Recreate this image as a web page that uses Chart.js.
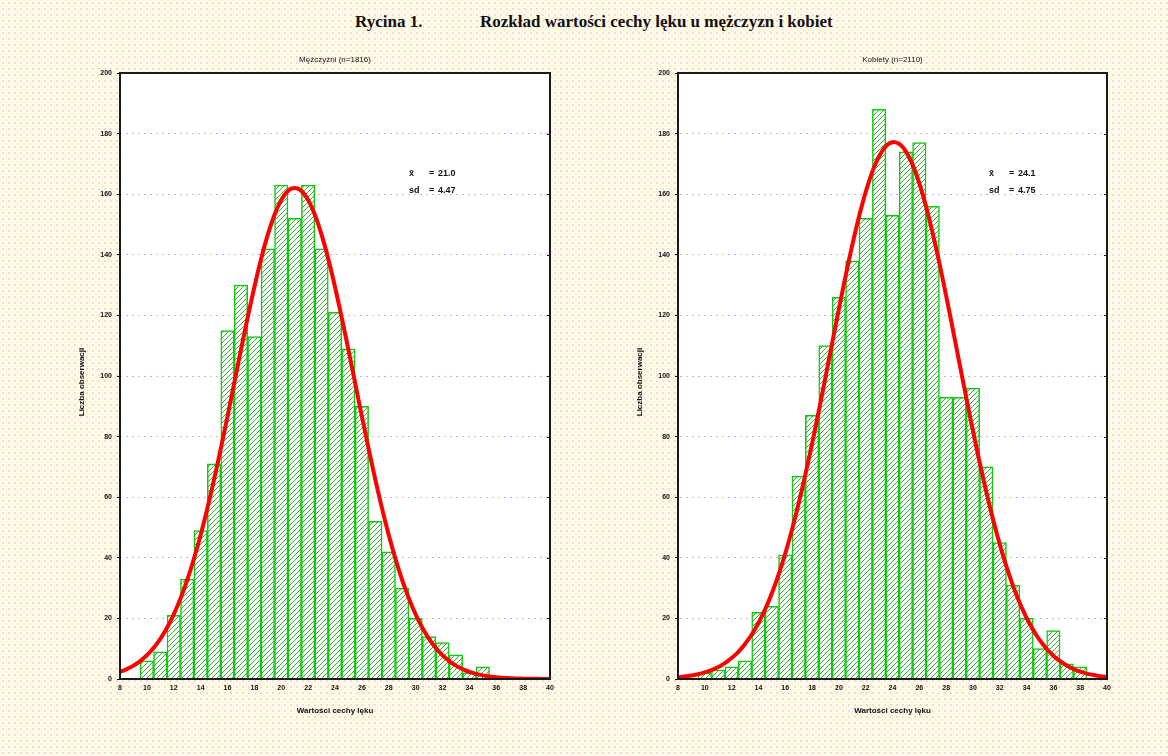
<!DOCTYPE html>
<html lang="pl">
<head>
<meta charset="utf-8">
<title>Rycina 1</title>
<script src="https://cdn.jsdelivr.net/npm/chart.js@4/dist/chart.umd.min.js"></script>
<style>
  html, body { margin: 0; padding: 0; }
  body {
    width: 1168px; height: 756px; overflow: hidden; position: relative;
    background-color: #fefbe9;
    background-image:
      radial-gradient(circle, rgba(240,165,228,0.45) 0.8px, transparent 1.2px),
      radial-gradient(circle, rgba(252,244,180,0.6) 0.8px, transparent 1.2px);
    background-size: 6px 6px, 6px 6px;
    background-position: 0 0, 3px 3px;
  }
  .title {
    position: absolute; top: 11px;
    font: bold 17px "Liberation Serif", "DejaVu Serif", serif;
    color: #111; white-space: nowrap; line-height: 22px;
  }
  canvas { position: absolute; top: 0; }
</style>
</head>
<body>
<span class="title" style="left:355px">Rycina 1.</span>
<span class="title" style="left:480px">Rozkład wartości cechy lęku u mężczyzn i kobiet</span>
<canvas id="men" width="584" height="756" style="left:0"></canvas>
<canvas id="women" width="584" height="756" style="left:584px"></canvas>
<script>
// Histogram bins (bin centres, width 1) and counts per group
const binsMen = [10, 11, 12, 13, 14, 15, 16, 17, 18, 19, 20, 21, 22, 23, 24, 25, 26, 27, 28, 29, 30, 31, 32, 33, 34, 35];
const countsMen = [6, 9, 21, 33, 49, 71, 115, 130, 113, 142, 163, 152, 163, 142, 121, 109, 90, 52, 42, 30, 20, 14, 12, 8, 2, 4];

const binsWomen = [10, 11, 12, 13, 14, 15, 16, 17, 18, 19, 20, 21, 22, 23, 24, 25, 26, 27, 28, 29, 30, 31, 32, 33, 34, 35, 36, 37, 38];
const countsWomen = [2, 3, 4, 6, 22, 24, 41, 67, 87, 110, 126, 138, 152, 188, 153, 174, 177, 156, 93, 93, 96, 70, 45, 31, 20, 10, 16, 5, 4];

// Sample statistics shown on each panel
const nMen = 1816, meanMen = 21.0, sdMen = 4.47;
const nWomen = 2110, meanWomen = 24.1, sdWomen = 4.75;

// Axis ranges and tick steps
const xRange = [8, 40], xStep = 2;
const yRange = [0, 200], yStep = 20;

// Fitted normal curve (expected counts per unit bin) from n, mean and sd
function normalCurve(n, mean, sd) {
  const pts = [];
  for (let x = xRange[0]; x <= xRange[1] + 1e-9; x += 0.25) {
    const z = (x - mean) / sd;
    pts.push({ x: x, y: n / (sd * Math.sqrt(2 * Math.PI)) * Math.exp(-0.5 * z * z) });
  }
  return pts;
}

// Diagonal hatch used inside the bars
function hatchPattern() {
  const c = document.createElement('canvas');
  c.width = 5; c.height = 5;
  const g = c.getContext('2d');
  g.fillStyle = '#ffffff';
  g.fillRect(0, 0, 5, 5);
  g.strokeStyle = '#2fb52f';
  g.lineWidth = 1;
  g.beginPath();
  g.moveTo(-1, 6); g.lineTo(6, -1);
  g.moveTo(-1, 1); g.lineTo(1, -1);
  g.moveTo(4, 6); g.lineTo(6, 4);
  g.stroke();
  return g.createPattern(c, 'repeat');
}

// Dotted, multi-coloured horizontal grid line
function gridPattern() {
  const c = document.createElement('canvas');
  c.width = 18; c.height = 4;
  const g = c.getContext('2d');
  g.fillStyle = '#86d4dc'; g.fillRect(0, 0, 2, 4);
  g.fillStyle = '#e79ae0'; g.fillRect(6, 0, 2, 4);
  g.fillStyle = '#cfcf96'; g.fillRect(12, 0, 2, 4);
  return g.createPattern(c, 'repeat');
}

const tickFont = { family: '"Liberation Sans", Arial, sans-serif', size: 7, weight: 'bold' };

// White plot background, frame and panel texts
const panelDecor = {
  id: 'panelDecor',
  beforeDraw(chart) {
    const a = chart.chartArea, ctx = chart.ctx;
    ctx.save();
    ctx.fillStyle = '#ffffff';
    ctx.fillRect(a.left, a.top, a.right - a.left, a.bottom - a.top);
    ctx.restore();
  },
  afterDraw(chart, args, o) {
    const a = chart.chartArea, ctx = chart.ctx;
    const y = chart.scales.y;
    ctx.save();
    // frame
    ctx.strokeStyle = '#1a1a1a';
    ctx.lineWidth = 2;
    ctx.strokeRect(a.left, a.top, a.right - a.left, a.bottom - a.top);
    // short inner tick marks on the right edge
    ctx.lineWidth = 1;
    y.ticks.forEach(t => {
      const py = Math.round(y.getPixelForValue(t.value)) + 0.5;
      ctx.beginPath();
      ctx.moveTo(a.right - 3, py); ctx.lineTo(a.right, py);
      ctx.stroke();
    });
    const cx = (a.left + a.right) / 2;
    ctx.fillStyle = '#111';
    ctx.textBaseline = 'middle';
    // panel title
    ctx.font = '8px "Liberation Sans", Arial, sans-serif';
    ctx.textAlign = 'center';
    ctx.fillText(o.subtitle, cx, 60);
    // x-axis title
    ctx.font = 'bold 8px "Liberation Sans", Arial, sans-serif';
    ctx.fillText('Wartości cechy lęku', cx, 711);
    // y-axis title
    ctx.save();
    ctx.translate(o.yTitleX, (a.top + a.bottom) / 2 + 6);
    ctx.rotate(-Math.PI / 2);
    ctx.fillText('Liczba obserwacji', 0, 0);
    ctx.restore();
    // mean / sd box
    ctx.font = 'bold 9px "Liberation Sans", Arial, sans-serif';
    ctx.textAlign = 'left';
    o.stats.forEach((row, i) => {
      const ry = 174 + i * 17;
      ctx.fillText(row[0], o.statsX, ry);
      ctx.fillText('=', o.statsX + 20, ry);
      ctx.fillText(row[1], o.statsX + 29, ry);
    });
    ctx.restore();
  }
};

function makePanel(id, bins, counts, n, mean, sd, pad, deco) {
  const hatch = hatchPattern();
  const grid = gridPattern();
  return new Chart(document.getElementById(id), {
    type: 'bar',
    data: {
      datasets: [
        {
          type: 'line',
          data: normalCurve(n, mean, sd),
          borderColor: '#ff0000',
          borderWidth: 4,
          pointRadius: 0,
          tension: 0.3,
          fill: false,
          order: 0
        },
        {
          type: 'bar',
          data: bins.map((b, i) => ({ x: b, y: counts[i] })),
          backgroundColor: hatch,
          borderColor: '#10c810',
          borderWidth: 1.5,
          barPercentage: 1,
          categoryPercentage: 1,
          order: 1
        }
      ]
    },
    options: {
      responsive: false,
      animation: false,
      events: [],
      layout: { padding: pad },
      plugins: {
        legend: { display: false },
        tooltip: { enabled: false },
        title: { display: false },
        panelDecor: deco
      },
      scales: {
        x: {
          type: 'linear',
          min: xRange[0], max: xRange[1],
          offset: false,
          grid: { display: false, drawTicks: false, tickLength: 0, offset: false },
          border: { display: false },
          ticks: { stepSize: xStep, font: tickFont, color: '#111', padding: 5, maxRotation: 0, autoSkip: false },
          afterFit: s => { s.height = 40; }
        },
        y: {
          min: yRange[0], max: yRange[1],
          grid: { color: grid, lineWidth: 1, tickColor: '#111', tickLength: 3 },
          border: { display: false },
          ticks: { stepSize: yStep, font: tickFont, color: '#111', padding: 5 },
          afterFit: s => { s.width = 60; }
        }
      }
    },
    plugins: [panelDecor]
  });
}

makePanel('men', binsMen, countsMen, nMen, meanMen, sdMen,
  { left: 60, right: 34, top: 73, bottom: 37 },
  { subtitle: 'Mężczyźni (n=' + nMen + ')', yTitleX: 82, statsX: 409,
    stats: [['x̄', meanMen.toFixed(1)], ['sd', sdMen.toFixed(2)]] });

makePanel('women', binsWomen, countsWomen, nWomen, meanWomen, sdWomen,
  { left: 34, right: 61, top: 73, bottom: 37 },
  { subtitle: 'Kobiety (n=' + nWomen + ')', yTitleX: 56, statsX: 405,
    stats: [['x̄', meanWomen.toFixed(1)], ['sd', sdWomen.toFixed(2)]] });
</script>
</body>
</html>
